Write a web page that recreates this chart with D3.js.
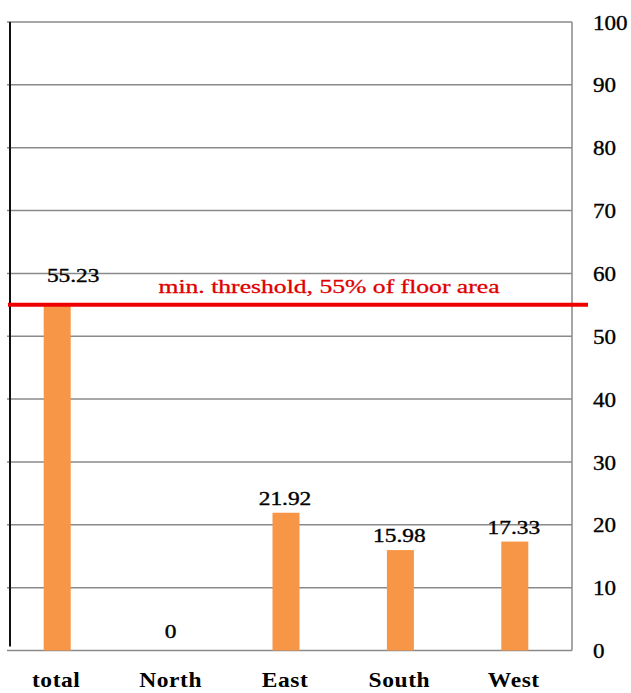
<!DOCTYPE html>
<html>
<head>
<meta charset="utf-8">
<script src="https://cdn.jsdelivr.net/npm/d3@7"></script>
<style>
  html, body { margin: 0; padding: 0; background: #fff; }
  svg { display: block; }
  text { font-family: "Liberation Serif", "Times New Roman", serif; }
</style>
</head>
<body>
<svg id="chart" width="631" height="693"></svg>
<script>
// Share of glazed floor area by orientation (%)
const categories = ["total", "North", "East", "South", "West"];
const values = [55.23, 0, 21.92, 15.98, 17.33];
const valueLabels = ["55.23", "0", "21.92", "15.98", "17.33"];
const yTicks = [0, 10, 20, 30, 40, 50, 60, 70, 80, 90, 100];
const thresholdValue = 55;
const thresholdLabel = "min. threshold, 55% of floor area";

const svg = d3.select("#chart");
const plot = { left: 0, right: 572, top: 22, bottom: 650.5 };

const x = d3.scaleBand().domain(categories).range([plot.left, plot.right]).padding(0);
const y = d3.scaleLinear().domain([0, 100]).range([plot.bottom, plot.top]);
const barW = 27;

// horizontal grid lines
svg.append("g")
  .selectAll("line")
  .data(yTicks)
  .join("line")
  .attr("x1", 7).attr("x2", plot.right)
  .attr("y1", d => y(d)).attr("y2", d => y(d))
  .attr("stroke", "#8a8a8a").attr("stroke-width", 1.5);

// right frame line
svg.append("line")
  .attr("x1", plot.right).attr("x2", plot.right)
  .attr("y1", y(100)).attr("y2", y(0))
  .attr("stroke", "#8a8a8a").attr("stroke-width", 1.5);

// left axis line
svg.append("line")
  .attr("x1", 10).attr("x2", 10)
  .attr("y1", y(100)).attr("y2", y(0) - 4)
  .attr("stroke", "#111").attr("stroke-width", 2);

// right-side tick labels through a d3 axis
const yAxis = d3.axisRight(y).tickValues(yTicks).tickSize(0).tickPadding(0).tickFormat(d3.format("d"));
const ag = svg.append("g").attr("transform", "translate(593,0)").call(yAxis);
ag.select(".domain").remove();
ag.selectAll("text")
  .attr("x", 0)
  .attr("dy", "0.34em")
  .attr("fill", "#000")
  .attr("stroke", "#000")
  .attr("stroke-width", 0.35)
  .style("font-size", "21px")
  .attr("text-anchor", "start")
  .attr("transform", "scale(1.1,1)");

// bars
const rows = categories.map((c, i) => ({ c, v: values[i], label: valueLabels[i] }));
svg.append("g")
  .selectAll("rect")
  .data(rows)
  .join("rect")
  .attr("x", d => x(d.c) + x.bandwidth() / 2 - barW / 2)
  .attr("width", barW)
  .attr("y", d => y(d.v))
  .attr("height", d => y(0) - y(d.v))
  .attr("fill", "#f79646");

// threshold line
const ty = y(thresholdValue);
svg.append("line")
  .attr("x1", 8).attr("x2", 588)
  .attr("y1", ty).attr("y2", ty)
  .attr("stroke", "#ee0000").attr("stroke-width", 4);

svg.append("text")
  .attr("transform", `translate(329,${ty - 12}) scale(1.35,1)`)
  .attr("text-anchor", "middle")
  .attr("fill", "#e00000")
  .attr("stroke", "#e00000")
  .attr("stroke-width", 0.3)
  .style("font-size", "19px")
  .text(thresholdLabel);

// value labels; the "total" label is lifted clear of the threshold line
svg.append("g")
  .selectAll("text")
  .data(rows)
  .join("text")
  .attr("transform", d => {
    const cx = x(d.c) + x.bandwidth() / 2;
    if (d.c === "total") return `translate(${cx + 16},${y(d.v) - 21}) scale(1.3,1)`;
    const off = d.v === 0 ? 13 : 8;
    return `translate(${cx - 1},${y(d.v) - off}) scale(1.3,1)`;
  })
  .attr("text-anchor", "middle")
  .attr("fill", "#000")
  .attr("stroke", "#000")
  .attr("stroke-width", 0.35)
  .style("font-size", "18px")
  .text(d => d.label);

// category labels
svg.append("g")
  .selectAll("text")
  .data(categories)
  .join("text")
  .attr("transform", d => `translate(${x(d) + x.bandwidth() / 2 - 1},687) scale(1.12,1)`)
  .attr("text-anchor", "middle")
  .attr("fill", "#000")
  .style("font-size", "21px")
  .style("font-weight", "bold")
  .style("letter-spacing", "0.5px")
  .text(d => d);
</script>
</body>
</html>
